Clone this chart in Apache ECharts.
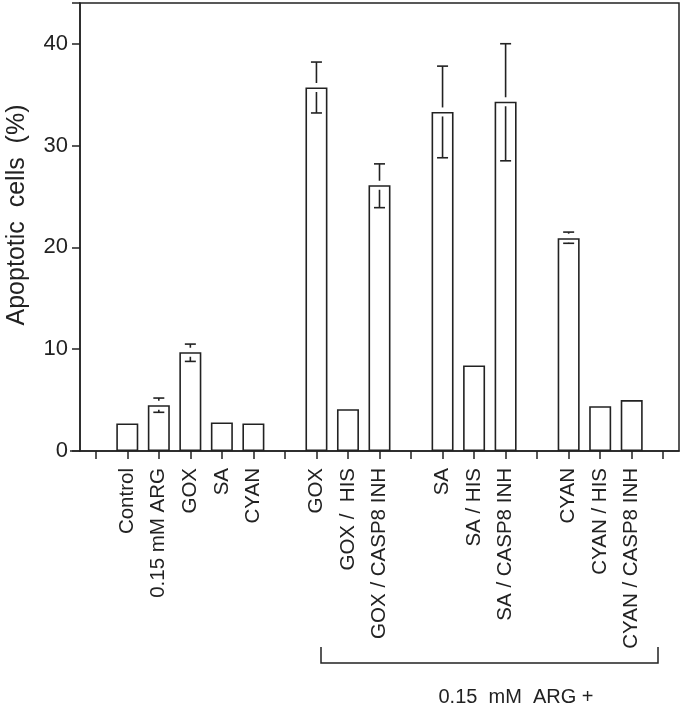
<!DOCTYPE html>
<html>
<head>
<meta charset="utf-8">
<script src="https://cdn.jsdelivr.net/npm/echarts@6/dist/echarts.min.js"></script>
<style>
html,body{margin:0;padding:0;background:#fff;}
#main{width:683px;height:705px;}
</style>
</head>
<body>
<div id="main"></div>
<script>
// ---- data ----
const categories = ['', 'Control', '0.15 mM ARG', 'GOX', 'SA', 'CYAN', '',
  'GOX', 'GOX /  HIS', 'GOX / CASP8 INH', '',
  'SA', 'SA / HIS', 'SA / CASP8 INH', '',
  'CYAN', 'CYAN / HIS', 'CYAN / CASP8 INH', ''];
const barValues = [null, 2.7, 4.5, 9.7, 2.8, 2.7, null,
  35.7, 4.1, 26.1, null,
  33.3, 8.4, 34.3, null,
  20.9, 4.4, 5.0, null];
const errLow = [null, null, 3.8, 8.8, null, null, null,
  33.2, null, 23.9, null,
  28.8, null, 28.5, null,
  20.4, null, null, null];
const errHigh = [null, null, 5.2, 10.5, null, null, null,
  38.2, null, 28.2, null,
  37.8, null, 40.0, null,
  21.5, null, null, null];
const yTicks = [0, 10, 20, 30, 40];
const yAxisTitle = 'Apoptotic  cells  (%)';
const groupTitle = '0.15  mM  ARG +';

const INK = '#222';
const FONT = 'Liberation Sans, Arial, sans-serif';

const errData = [];
for (let i = 0; i < categories.length; i++) {
  if (errLow[i] != null || errHigh[i] != null) {
    errData.push([i, barValues[i], errLow[i], errHigh[i]]);
  }
}

const chart = echarts.init(document.getElementById('main'), null, {renderer: 'canvas'});

function renderErr(params, api) {
  const i = api.value(0);
  const bar = api.value(1);
  const low = api.value(2);
  const high = api.value(3);
  const pBar = api.coord([i, bar]);
  const x = pBar[0];
  const yBar = pBar[1];
  const gap = 4.5;
  const half = 5.5;
  const style = {stroke: INK, lineWidth: 1.6};
  const children = [];
  if (!isNaN(high) && high != null) {
    const yH = api.coord([i, high])[1];
    if (yH < yBar - gap) {
      children.push({type: 'line', shape: {x1: x, y1: yBar - gap, x2: x, y2: yH}, style});
    }
    children.push({type: 'line', shape: {x1: x - half, y1: yH, x2: x + half, y2: yH}, style});
  }
  if (!isNaN(low) && low != null) {
    const yL = api.coord([i, low])[1];
    if (yL > yBar + gap) {
      children.push({type: 'line', shape: {x1: x, y1: yBar + gap, x2: x, y2: yL}, style});
    }
    children.push({type: 'line', shape: {x1: x - half, y1: yL, x2: x + half, y2: yL}, style});
  }
  return {type: 'group', children};
}

const option = {
  backgroundColor: '#fff',
  animation: false,
  grid: {
    left: 80, right: 4, top: 3, bottom: 254,
    show: true, borderColor: INK, borderWidth: 1.5, backgroundColor: 'transparent'
  },
  xAxis: {
    type: 'category',
    data: categories,
    boundaryGap: true,
    axisLine: {show: true, lineStyle: {color: INK, width: 1.5}},
    axisTick: {show: true, alignWithLabel: true, interval: 0, length: 8, lineStyle: {color: INK, width: 1.5}},
    axisLabel: {
      interval: 0, rotate: 90, margin: 17,
      color: INK, fontSize: 20.5, fontFamily: FONT
    },
    splitLine: {show: false}
  },
  yAxis: {
    type: 'value',
    min: 0, max: 44, interval: 10,
    axisLine: {show: true, lineStyle: {color: INK, width: 1.5}},
    axisTick: {show: true, length: 8, lineStyle: {color: INK, width: 1.5}},
    axisLabel: {
      color: INK, fontSize: 22, fontFamily: FONT, margin: 12,
      formatter: v => (yTicks.indexOf(v) >= 0 ? String(v) : '')
    },
    splitLine: {show: false}
  },
  series: [
    {
      type: 'bar',
      data: barValues,
      barWidth: 22,
      itemStyle: {color: '#fff', borderColor: INK, borderWidth: 1.6},
      z: 2
    },
    {
      type: 'custom',
      data: errData,
      renderItem: renderErr,
      encode: {x: 0, y: [1, 2, 3]},
      z: 3
    }
  ],
  graphic: [
    {
      type: 'text',
      x: 17, y: 215,
      rotation: Math.PI / 2,
      style: {text: yAxisTitle, fill: INK, font: '25px ' + FONT, textAlign: 'center', textVerticalAlign: 'middle'}
    },
    {
      type: 'line',
      shape: {x1: 70, y1: 451, x2: 80, y2: 451},
      style: {stroke: INK, lineWidth: 1.5}
    },
    {
      type: 'polyline',
      shape: {points: [[321, 647], [321, 663], [658, 663], [658, 647]]},
      style: {stroke: INK, lineWidth: 1.5, fill: null}
    },
    {
      type: 'text',
      x: 516, y: 697,
      style: {text: groupTitle, fill: INK, font: '20px ' + FONT, textAlign: 'center', textVerticalAlign: 'middle'}
    }
  ]
};
chart.setOption(option);
</script>
</body>
</html>
